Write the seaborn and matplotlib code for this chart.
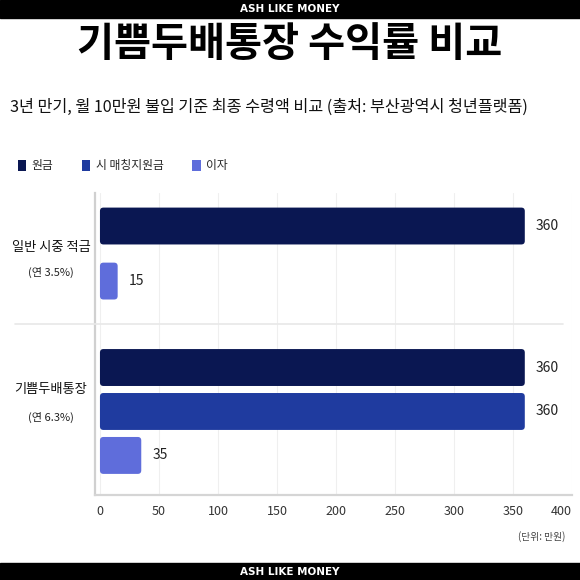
import pandas as pd
import matplotlib
matplotlib.use("Agg")
import matplotlib.pyplot as plt
import seaborn as sns
from matplotlib.patches import Patch, Rectangle, FancyBboxPatch
from matplotlib.lines import Line2D

# chart data
groups = ['일반 시중 적금', '기쁨두배통장']
group_rates = ['(연 3.5%)', '(연 6.3%)']
series = ['원금', '시 매칭지원금', '이자']
normal_series = ['원금', '이자']
normal_values = [360, 15]
joy_series = ['원금', '시 매칭지원금', '이자']
joy_values = [360, 360, 35]
x_ticks = [0, 50, 100, 150, 200, 250, 300, 350, 400]

colors = {'원금': '#0a1752', '시 매칭지원금': '#1f3b9f', '이자': '#5f6ddb'}

rows = []
for s, v in zip(normal_series, normal_values):
    rows.append({'group': groups[0], 'series': s, 'value': v})
for s, v in zip(joy_series, joy_values):
    rows.append({'group': groups[1], 'series': s, 'value': v})
df = pd.DataFrame(rows)

sns.set_theme(style='white')
plt.rcParams['font.family'] = ['Noto Sans CJK KR', 'DejaVu Sans']

W = H = 580
fig = plt.figure(figsize=(5.8, 5.8), dpi=100)

def fx(px):
    return px / W

def fy(py):
    return 1 - py / H

# two stacked axes, one per group
left, right = 95, 572
ax_top = fig.add_axes([fx(left), fy(324), fx(right - left), (324 - 193) / H])
ax_bot = fig.add_axes([fx(left), fy(495), fx(right - left), (495 - 324) / H], sharex=ax_top)

setups = [
    (ax_top, groups[0], normal_series, 0.67, (1.78, -0.6)),
    (ax_bot, groups[1], joy_series, 0.84, (2.9, -0.99)),
]
for ax, g, order, width, ylim in setups:
    sub = df[df['group'] == g]
    sns.barplot(data=sub, y='series', x='value', hue='series', order=order,
                hue_order=order, palette=colors, width=width, dodge=False,
                legend=False, ax=ax, saturation=1)
    for cont in ax.containers:
        ax.bar_label(cont, padding=8, fontsize=10, color='#222222')
    ax.set_ylim(*ylim)
    ax.set_xlim(-4.2, 400)
    ax.set_xticks(x_ticks)
    ax.set_yticks([])
    ax.set_xlabel('')
    ax.set_ylabel('')
    ax.grid(axis='x', color='#efefef', lw=0.8)
    ax.set_axisbelow(True)
    for side in ['top', 'right', 'bottom']:
        ax.spines[side].set_visible(False)
    ax.spines['left'].set_color('#d0d0d0')
    ax.spines['left'].set_linewidth(1.6)
    ax.tick_params(axis='both', length=0)

    # swap the square bars for slightly rounded ones
    bbox = ax.get_position()
    x_per_px = (400 + 4.2) / (bbox.width * W)
    y_per_px = abs(ylim[0] - ylim[1]) / (bbox.height * H)
    for bar in ax.patches[:]:
        if not isinstance(bar, Rectangle) or bar.get_width() == 0:
            continue
        rb = FancyBboxPatch((bar.get_x(), bar.get_y()), bar.get_width(), bar.get_height(),
                            boxstyle=f'round,pad=0,rounding_size={3.5 * x_per_px}',
                            mutation_aspect=y_per_px / x_per_px,
                            facecolor=bar.get_facecolor(), edgecolor='none', zorder=2)
        ax.add_patch(rb)
        bar.set_visible(False)

ax_top.tick_params(labelbottom=False)
ax_bot.spines['bottom'].set_visible(True)
ax_bot.spines['bottom'].set_color('#d5d5d5')
ax_bot.spines['bottom'].set_linewidth(1.6)
ax_bot.tick_params(axis='x', labelsize=9, labelcolor='#333333', pad=7)
ax_bot.get_xticklabels()[-1].set_horizontalalignment('right')

# group separator
fig.add_artist(Line2D([fx(15), fx(563)], [fy(324), fy(324)], color='#e8e8e8', lw=1.2))

# group labels
label_pos = [(247, 272), (390, 417)]
for g, r, (y1, y2) in zip(groups, group_rates, label_pos):
    fig.text(fx(51), fy(y1), g, ha='center', va='center', fontsize=9.5, color='#111111')
    fig.text(fx(51), fy(y2), r, ha='center', va='center', fontsize=8, color='#222222')

# top and bottom black bars
fig.add_artist(Rectangle((0, fy(18)), 1, 18 / H, transform=fig.transFigure,
                         color='black', zorder=0))
fig.add_artist(Rectangle((0, 0), 1, 17 / H, transform=fig.transFigure,
                         color='black', zorder=0))
fig.text(0.5, fy(9), 'ASH LIKE MONEY', ha='center', va='center', fontsize=7.5,
         color='white', fontweight='heavy', family=['DejaVu Sans'])
fig.text(0.5, fy(572), 'ASH LIKE MONEY', ha='center', va='center', fontsize=7.5,
         color='white', fontweight='heavy', family=['DejaVu Sans'])

# titles
fig.text(0.5, fy(44), '기쁨두배통장 수익률 비교', ha='center', va='center',
         fontsize=29, fontweight='black', color='black')
fig.text(fx(10), fy(107), '3년 만기, 월 10만원 불입 기준 최종 수령액 비교 (출처: 부산광역시 청년플랫폼)',
         ha='left', va='center', fontsize=11.7, color='#111111')

# legend
handles = [Patch(facecolor=colors[s], edgecolor='none', label=s) for s in series]
fig.legend(handles=handles, loc='center left', bbox_to_anchor=(fx(7), fy(166)),
           ncol=3, frameon=False, fontsize=8.5, handlelength=0.7, handleheight=1.1,
           handletextpad=0.5, columnspacing=2.4)

fig.text(fx(565), fy(537), '(단위: 만원)', ha='right', va='center', fontsize=7,
         color='#444444')

fig.savefig('out.png', dpi=100)
